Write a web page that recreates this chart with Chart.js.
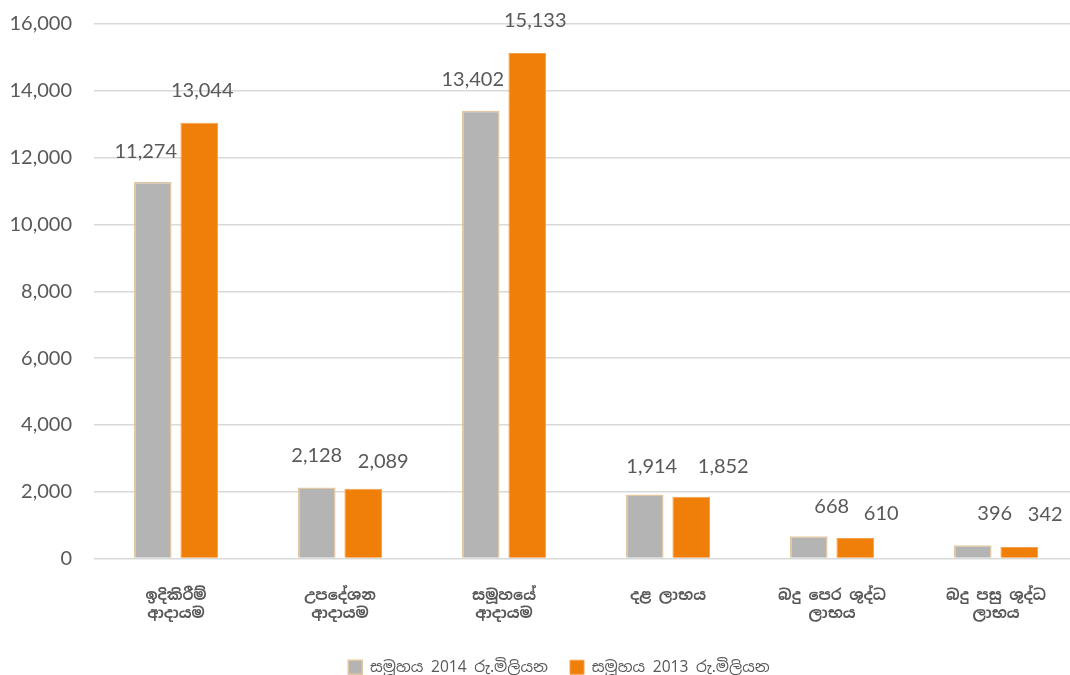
<!DOCTYPE html>
<html>
<head>
<meta charset="utf-8">
<script src="https://cdn.jsdelivr.net/npm/chart.js@4/dist/chart.umd.min.js"></script>
<style>
  html, body { margin: 0; padding: 0; background: #fff; overflow: hidden; }
  #wrap { position: relative; width: 1080px; height: 695px; margin-top: -10px; }
</style>
</head>
<body>
<div id="wrap"><canvas id="chart"></canvas></div>
<script>
const categories = [
  ["ඉදිකිරීම්", "ආදායම"],
  ["උපදේශන", "ආදායම"],
  ["සමූහයේ", "ආදායම"],
  ["දළ ලාභය"],
  ["බදු පෙර ශුද්ධ", "ලාභය"],
  ["බදු පසු ශුද්ධ", "ලාභය"]
]
const group2014 = [11274, 2128, 13402, 1914, 668, 396]
const group2013 = [13044, 2089, 15133, 1852, 610, 342]
const seriesNames = ["සමූහය 2014 රු.මිලියන", "සමූහය 2013 රු.මිලියන"]
const yTicks = [0, 2000, 4000, 6000, 8000, 10000, 12000, 14000, 16000]

const fmt = v => v.toLocaleString("en-US")
const numFont = "Lato, 'Open Sans', sans-serif"
const textFont = "'Noto Sans Sinhala', 'Noto Sans', sans-serif"

// value labels above each bar, nudged like the original so they don't collide
const barLabels = {
  id: "barLabels",
  afterDatasetsDraw(chart, args, opts) {
    const ctx = chart.ctx
    ctx.save()
    ctx.font = `20px ${numFont}`
    ctx.fillStyle = "#595959"
    ctx.textAlign = "center"
    ctx.textBaseline = "middle"
    chart.data.datasets.forEach((ds, i) => {
      chart.getDatasetMeta(i).data.forEach((bar, j) => {
        const dx = opts.dx[i][j], dy = opts.dy[i][j]
        ctx.fillText(fmt(ds.data[j]), bar.x + dx, bar.y + dy)
      })
    })
    ctx.restore()
  }
}

// the original legend sits a little right of centre
const legendShift = {
  id: "legendShift",
  afterLayout(chart) {
    chart.legend.left += 20
    chart.legend.right += 20
  }
}

new Chart(document.getElementById("chart"), {
  type: "bar",
  data: {
    labels: categories,
    datasets: [
      {
        label: seriesNames[0],
        data: group2014,
        backgroundColor: "#b4b4b4",
        borderColor: "#e2c8a0",
        borderWidth: 1.5
      },
      {
        label: seriesNames[1],
        data: group2013,
        backgroundColor: "#f07f09",
        borderColor: "#f5a04c",
        borderWidth: 1
      }
    ]
  },
  options: {
    responsive: true,
    maintainAspectRatio: false,
    animation: false,
    datasets: {
      bar: { categoryPercentage: 0.567, barPercentage: 0.81 }
    },
    layout: { padding: { top: 13, left: 0, right: 2, bottom: 0 } },
    plugins: {
      tooltip: { enabled: false },
      barLabels: {
        dx: [[-7, 0, -8, 7, 23, 22], [3, 20, 8, 32, 26, 26]],
        dy: [[-30, -32, -31, -28, -30, -32], [-32, -27, -32, -30, -25, -33]]
      },
      legend: {
        position: "bottom",
        labels: {
          boxWidth: 14,
          boxHeight: 14,
          padding: 22,
          color: "#595959",
          font: { family: textFont, size: 15.5 }
        }
      }
    },
    scales: {
      x: {
        afterFit(s) { s.height = 79 },
        grid: { display: false },
        border: { display: false },
        ticks: {
          color: "#595959",
          padding: 20,
          maxRotation: 0,
          font: { family: textFont, size: 15, weight: "bold", lineHeight: 1.2 }
        }
      },
      y: {
        min: 0,
        max: 16000,
        afterFit(s) { s.width = 94 },
        afterBuildTicks(s) { s.ticks = yTicks.map(v => ({ value: v })) },
        grid: { color: "#d9d9d9", lineWidth: 1.5, drawTicks: false },
        border: { display: false },
        ticks: {
          color: "#595959",
          padding: 22,
          font: { family: numFont, size: 20 },
          callback: v => fmt(v)
        }
      }
    }
  },
  plugins: [barLabels, legendShift]
})
</script>
</body>
</html>
